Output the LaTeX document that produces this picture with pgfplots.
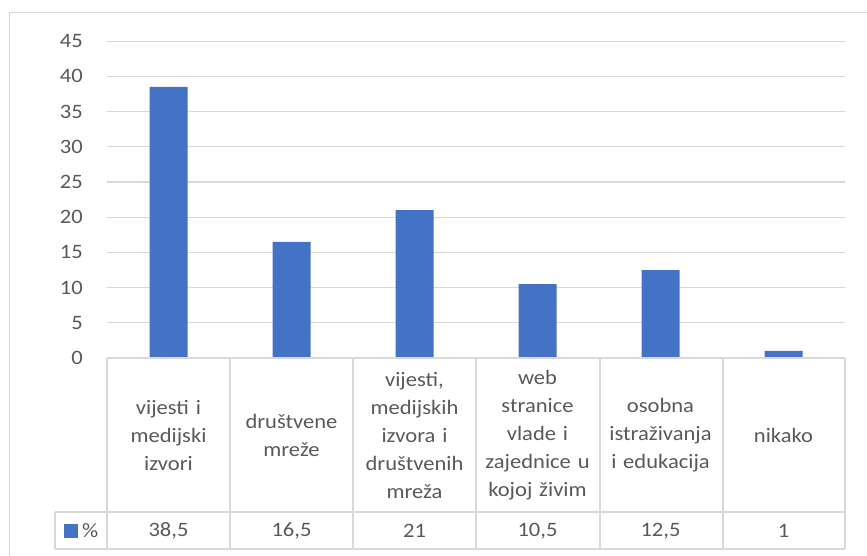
\documentclass[border=0pt]{standalone}
\usepackage{pgfplots}
\pgfplotsset{compat=1.18}
\usepackage{pgfplotstable}
\usepackage{fontspec}
\setmainfont{Carlito}[FakeStretch=1.1]
\definecolor{txt}{HTML}{595959}
\definecolor{grd}{HTML}{D9D9D9}
\definecolor{barc}{HTML}{4472C4}

\pgfplotstableread{
x val
0 38.5
1 16.5
2 21
3 10.5
4 12.5
5 1
}\data

\begin{document}
\fontsize{20.5bp}{28bp}\selectfont
\begin{tikzpicture}
\useasboundingbox (0,0) rectangle (867bp,-556bp);
\draw[grd, line width=1bp] (9bp,-570bp) -- (9bp,-12bp) -- (880bp,-12bp);
\begin{axis}[
  at={(107bp,-358bp)}, anchor=south west,
  x=123bp, y=7.04bp,
  xmin=-0.5, xmax=5.5, ymin=0, ymax=45,
  axis line style={draw=none},
  major tick length=0pt,
  tick style={draw=none},
  ytick={0,5,...,45},
  ymajorgrids,
  grid style={grd, line width=1.2bp},
  xtick={0,...,5},
  xticklabels={{vijesti i\\medijski\\izvori},{društvene\\mreže},{vijesti,\\medijskih\\izvora i\\društvenih\\mreža},{web\\stranice\\vlade i\\zajednice u\\kojoj živim},{osobna\\istraživanja\\i edukacija},{nikako}},
  xticklabel style={text width=118bp, align=center, anchor=center, yshift=-77bp, text=txt, font=\fontsize{20.5bp}{28bp}\selectfont},
  yticklabel style={anchor=east, inner sep=0pt, xshift=-24bp, text=txt},
  /pgf/number format/assume math mode=true,
  /pgf/number format/use comma,
  clip=false,
]
\addplot[ybar, fill=barc, draw=none, bar width=38bp] table[x=x, y=val] {\data};
\addplot[draw=none, mark=none, point meta=explicit,
  nodes near coords={\pgfmathprintnumber[fixed, precision=1, use comma, assume math mode=true]{\pgfplotspointmeta}},
  nodes near coords style={anchor=center, text=txt, inner sep=0pt}]
  table[x=x, y expr=-24.57, meta=val] {\data};
\end{axis}
\begin{scope}[grd, line width=1.5bp]
\draw (107bp,-358bp) -- (845bp,-358bp);
\draw (55bp,-512bp) -- (845bp,-512bp);
\draw (55bp,-549bp) -- (845bp,-549bp);
\draw (55bp,-512bp) -- (55bp,-549bp);
\foreach \xx in {107,230,353,476,600,723,845} {\draw (\xx bp,-358bp) -- (\xx bp,-549bp);}
\end{scope}
\fill[barc] (64bp,-524bp) rectangle (78bp,-538bp);
\node[anchor=west, text=txt, inner sep=0pt] at (82bp,-531bp) {\%};
\end{tikzpicture}
\end{document}
